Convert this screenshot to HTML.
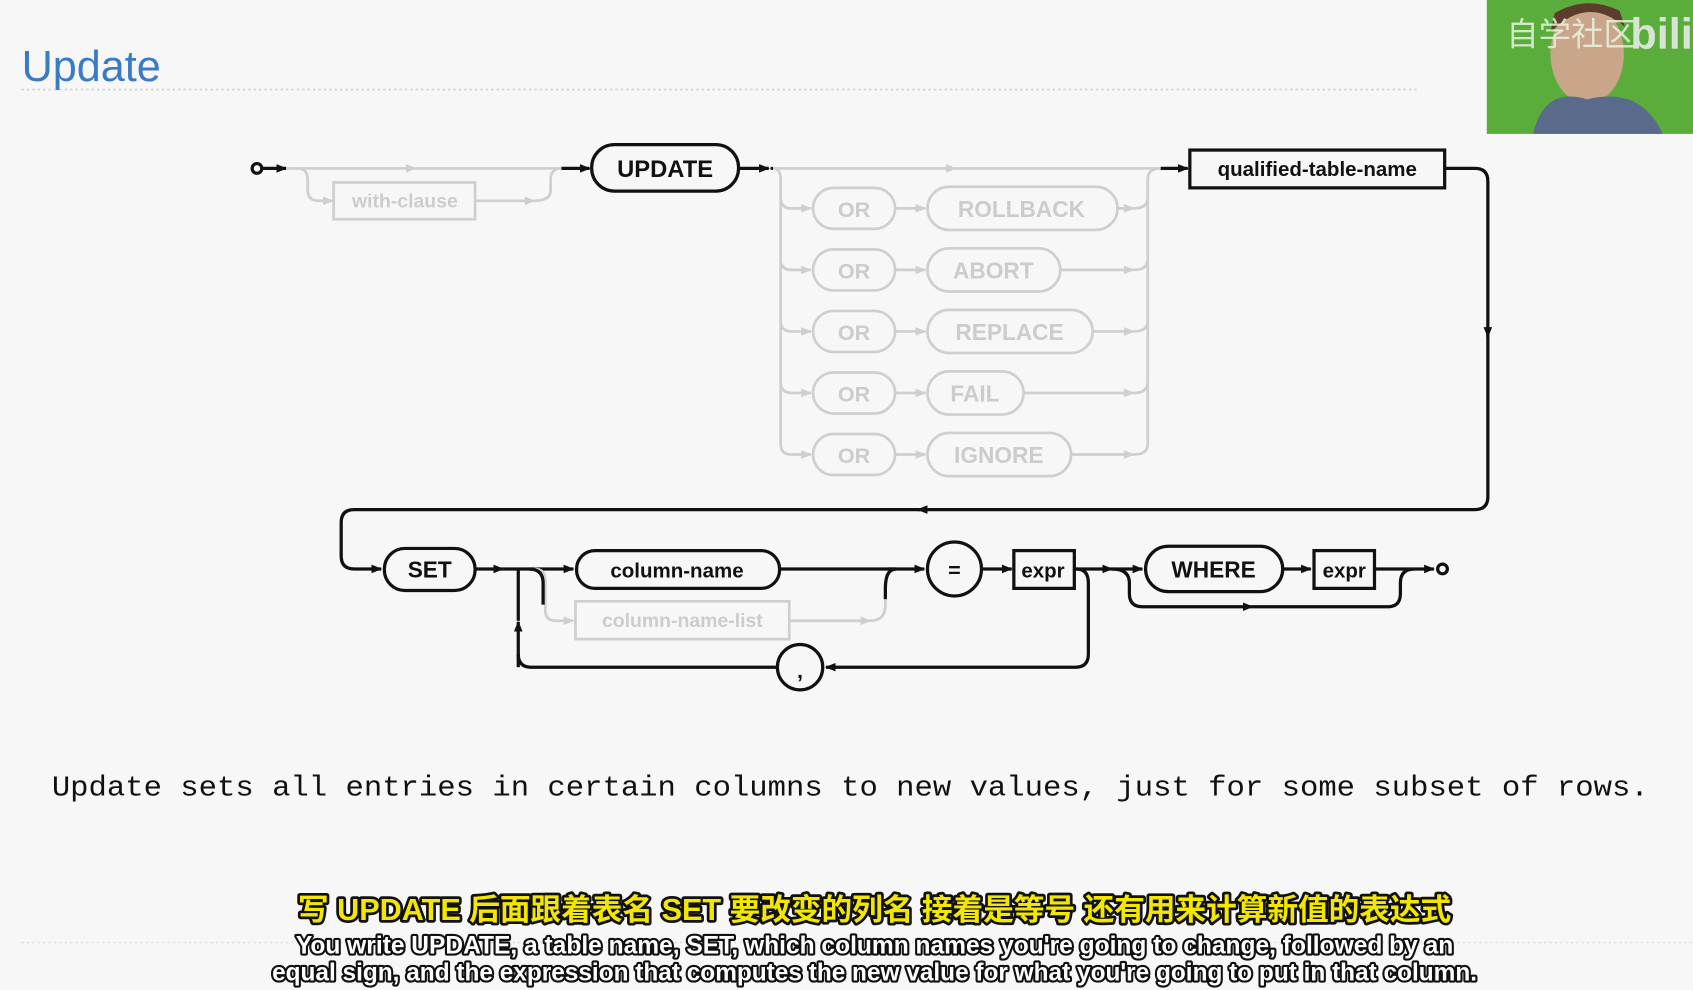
<!DOCTYPE html>
<html><head><meta charset="utf-8"><style>
html,body{margin:0;padding:0;background:#f7f7f7;}
svg{display:block}
.b{fill:none;stroke:#111;stroke-width:3}
.g{fill:none;stroke:#cfcfcf;stroke-width:2.5}
.tb{font-family:"Liberation Sans",sans-serif;font-weight:bold;fill:#111;text-anchor:middle}
.tg{font-family:"Liberation Sans",sans-serif;fill:#cccccc;text-anchor:middle;font-weight:bold}
</style></head><body>
<svg width="1693" height="990" viewBox="0 0 1568 917" preserveAspectRatio="none" xmlns="http://www.w3.org/2000/svg">
<defs>
<marker id="ab" markerWidth="10" markerHeight="8" refX="9" refY="4" orient="auto" markerUnits="userSpaceOnUse"><path d="M0,0 L10,4 L0,8 z" fill="#111"/></marker>
<marker id="ag" markerWidth="10" markerHeight="8" refX="9" refY="4" orient="auto" markerUnits="userSpaceOnUse"><path d="M0,0 L10,4 L0,8 z" fill="#cfcfcf"/></marker>
</defs>
<rect width="1568" height="917" fill="#f7f7f7"/>
<text x="20" y="75" font-family="Liberation Sans,sans-serif" font-size="40" fill="#3a7bc8">Update</text>
<line x1="20" y1="83" x2="1315" y2="83" stroke="#ccc" stroke-width="1.5" stroke-dasharray="2,3"/>
<line x1="20" y1="873" x2="1568" y2="873" stroke="#ddd" stroke-width="1.5" stroke-dasharray="2,3"/>
<!-- webcam -->
<rect x="1377" y="0" width="191" height="124" fill="#5aad3a"/>
<ellipse cx="1470" cy="50" rx="34" ry="46" fill="#c9a58a"/>
<path d="M1436,30 Q1470,-5 1505,25 L1500,10 Q1470,-5 1440,12z" fill="#5a3d2a"/>
<path d="M1420,124 Q1430,80 1470,92 Q1520,80 1540,124z" fill="#5a6a8a"/>
<text x="1395" y="42" font-family="Noto Sans CJK SC,sans-serif" font-size="30" fill="#e8f3e0" opacity="0.85">自学社区</text>
<text x="1510" y="45" font-family="Liberation Sans,sans-serif" font-size="40" font-weight="bold" fill="#eee" opacity="0.85">bili</text>

<!-- row 1 -->
<circle cx="238" cy="156" r="4.5" fill="none" stroke="#111" stroke-width="3"/>
<path class="b" d="M243,156 L265,156" marker-end="url(#ab)"/>
<path class="g" d="M265,156 L385,156" marker-end="url(#ag)"/>
<path class="g" d="M385,156 L520,156"/>
<path class="g" d="M275,156 Q285,156 285,166 L285,176 Q285,186 295,186 L308,186" marker-end="url(#ag)"/>
<rect x="309" y="169" width="131" height="34" fill="none" stroke="#cfcfcf" stroke-width="2.5"/>
<text class="tg" x="375" y="192" font-size="18" font-weight="normal">with-clause</text>
<path class="g" d="M440,186 L495,186" marker-end="url(#ag)"/>
<path class="g" d="M495,186 Q510,186 510,176 L510,166 Q510,156 520,156"/>
<path class="b" d="M520,156 L546,156" marker-end="url(#ab)"/>
<rect x="548" y="134" width="136" height="43" rx="21" class="b"/>
<text class="tb" x="616" y="164" font-size="22">UPDATE</text>
<path class="b" d="M684,156 L712,156" marker-end="url(#ab)"/>
<circle cx="715" cy="156" r="1.5" fill="#111"/>
<path class="g" d="M716,156 L885,156" marker-end="url(#ag)"/>
<path class="g" d="M885,156 L1075,156"/>
<path class="g" d="M716,156 Q723,156 723,166 L723,411 Q723,421 733,421"/>
<path class="g" d="M1063,411 L1063,166 Q1063,156 1075,156"/>
<g>
<path class="g" d="M723,183 Q723,193 733,193 L751,193" marker-end="url(#ag)"/>
<rect x="753" y="174" width="76" height="38" rx="19" class="g"/><text class="tg" x="791" y="201" font-size="20">OR</text>
<path class="g" d="M829,193 L857,193" marker-end="url(#ag)"/>
<rect x="859" y="173" width="176" height="40" rx="20" class="g"/><text class="tg" x="946" y="201" font-size="21">ROLLBACK</text>
<path class="g" d="M1035,193 L1050,193" marker-end="url(#ag)"/><path class="g" d="M1050,193 Q1063,193 1063,183"/>

<path class="g" d="M723,240 Q723,250 733,250 L751,250" marker-end="url(#ag)"/>
<rect x="753" y="231" width="76" height="38" rx="19" class="g"/><text class="tg" x="791" y="258" font-size="20">OR</text>
<path class="g" d="M829,250 L857,250" marker-end="url(#ag)"/>
<rect x="859" y="230" width="123" height="40" rx="20" class="g"/><text class="tg" x="920" y="258" font-size="21">ABORT</text>
<path class="g" d="M982,250 L1050,250" marker-end="url(#ag)"/><path class="g" d="M1050,250 Q1063,250 1063,240"/>

<path class="g" d="M723,297 Q723,307 733,307 L751,307" marker-end="url(#ag)"/>
<rect x="753" y="288" width="76" height="38" rx="19" class="g"/><text class="tg" x="791" y="315" font-size="20">OR</text>
<path class="g" d="M829,307 L857,307" marker-end="url(#ag)"/>
<rect x="859" y="287" width="153" height="40" rx="20" class="g"/><text class="tg" x="935" y="315" font-size="21">REPLACE</text>
<path class="g" d="M1012,307 L1050,307" marker-end="url(#ag)"/><path class="g" d="M1050,307 Q1063,307 1063,297"/>

<path class="g" d="M723,354 Q723,364 733,364 L751,364" marker-end="url(#ag)"/>
<rect x="753" y="345" width="76" height="38" rx="19" class="g"/><text class="tg" x="791" y="372" font-size="20">OR</text>
<path class="g" d="M829,364 L857,364" marker-end="url(#ag)"/>
<rect x="859" y="344" width="89" height="40" rx="20" class="g"/><text class="tg" x="903" y="372" font-size="21">FAIL</text>
<path class="g" d="M948,364 L1050,364" marker-end="url(#ag)"/><path class="g" d="M1050,364 Q1063,364 1063,354"/>

<rect x="753" y="402" width="76" height="38" rx="19" class="g"/><text class="tg" x="791" y="429" font-size="20">OR</text>
<path class="g" d="M733,421 L751,421" marker-end="url(#ag)"/>
<path class="g" d="M829,421 L857,421" marker-end="url(#ag)"/>
<rect x="859" y="401" width="133" height="40" rx="20" class="g"/><text class="tg" x="925" y="429" font-size="21">IGNORE</text>
<path class="g" d="M992,421 L1050,421" marker-end="url(#ag)"/><path class="g" d="M1050,421 Q1063,421 1063,411"/>
</g>
<path class="b" d="M1075,156 L1100,156" marker-end="url(#ab)"/>
<rect x="1102" y="139" width="236" height="35" class="b"/>
<text class="tb" x="1220" y="163" font-size="19">qualified-table-name</text>
<path class="b" d="M1338,156 L1366,156 Q1378,156 1378,168 L1378,312" marker-end="url(#ab)"/>
<path class="b" d="M1378,310 L1378,460 Q1378,472 1366,472 L850,472" marker-end="url(#ab)"/>
<path class="b" d="M852,472 L328,472 Q316,472 316,484 L316,515 Q316,527 328,527 L353,527" marker-end="url(#ab)"/>
<!-- row 2 -->
<rect x="356" y="508" width="84" height="39" rx="19" class="b"/>
<text class="tb" x="398" y="535" font-size="21">SET</text>
<path class="b" d="M440,527 L466,527" marker-end="url(#ab)"/>
<path class="b" d="M466,527 L531,527" marker-end="url(#ab)"/>
<path class="b" d="M480,527 L480,575" />
<path class="b" d="M480,618 L480,576" marker-end="url(#ab)"/>
<path class="g" d="M495,527 Q505,527 505,537 L505,565 Q505,575 515,575 L531,575" marker-end="url(#ag)"/>
<path class="b" d="M490,527 Q503,527 503,540 L503,560"/>
<rect x="534" y="510" width="188" height="35" rx="17" class="b"/>
<text class="tb" x="627" y="535" font-size="19">column-name</text>
<rect x="533" y="557" width="198" height="35" class="g"/>
<text class="tg" x="632" y="581" font-size="18" font-weight="normal">column-name-list</text>
<path class="g" d="M731,575 L806,575" marker-end="url(#ag)"/>
<path class="g" d="M806,575 Q820,575 820,560 L820,545"/>
<path class="b" d="M722,527 L830,527 Q820,527 820,545 L820,555"/>
<path class="b" d="M822,527 L856,527" marker-end="url(#ab)"/>
<circle cx="884" cy="527" r="25" class="b"/>
<text class="tb" x="884" y="535" font-size="20">=</text>
<path class="b" d="M909,527 L937,527" marker-end="url(#ab)"/>
<rect x="939" y="510" width="56" height="35" class="b"/>
<text class="tb" x="966" y="535" font-size="19">expr</text>
<path class="b" d="M995,527 L1030,527" marker-end="url(#ab)"/>
<path class="b" d="M997,527 Q1008,527 1008,540 L1008,606 Q1008,618 996,618 L765,618" marker-end="url(#ab)"/>
<path class="b" d="M720,618 L492,618 Q480,618 480,606"/>
<circle cx="741" cy="618" r="21" class="b"/>
<text class="tb" x="741" y="628" font-size="20">,</text>
<path class="b" d="M1030,527 L1058,527" marker-end="url(#ab)"/>
<path class="b" d="M1030,527 Q1046,527 1046,540 L1046,550 Q1046,562 1058,562 L1160,562" marker-end="url(#ab)"/>
<path class="b" d="M1160,562 L1285,562 Q1297,562 1297,550 L1297,540 Q1297,527 1310,527"/>
<rect x="1061" y="506" width="127" height="42" rx="21" class="b"/>
<text class="tb" x="1124" y="535" font-size="21">WHERE</text>
<path class="b" d="M1188,527 L1214,527" marker-end="url(#ab)"/>
<rect x="1217" y="510" width="56" height="35" class="b"/>
<text class="tb" x="1245" y="535" font-size="19">expr</text>
<path class="b" d="M1273,527 L1328,527" marker-end="url(#ab)"/>
<circle cx="1336" cy="527" r="4.5" fill="none" stroke="#111" stroke-width="3"/>

<text x="48" y="737" font-family="Liberation Mono,monospace" font-size="26.2" fill="#111" textLength="1479" lengthAdjust="spacingAndGlyphs">Update sets all entries in certain columns to new values, just for some subset of rows.</text>

<g font-weight="bold" text-anchor="middle" stroke="#111" stroke-width="5" paint-order="stroke" stroke-linejoin="round">
<text x="810" y="852" font-family="Liberation Sans,Noto Sans CJK SC,sans-serif" font-size="28" fill="#f3e600" textLength="1068" lengthAdjust="spacingAndGlyphs">写 UPDATE  后面跟着表名  SET  要改变的列名  接着是等号  还有用来计算新值的表达式</text>
<text x="810" y="883" font-family="Liberation Sans,sans-serif" font-size="23" fill="#fff" stroke-width="4" textLength="1072" lengthAdjust="spacingAndGlyphs">You write UPDATE, a table name, SET, which column names you're going to change, followed by an</text>
<text x="810" y="908" font-family="Liberation Sans,sans-serif" font-size="23" fill="#fff" stroke-width="4" textLength="1116" lengthAdjust="spacingAndGlyphs">equal sign, and the expression that computes the new value for what you're going to put in that column.</text>
</g>
</svg>
</body></html>
